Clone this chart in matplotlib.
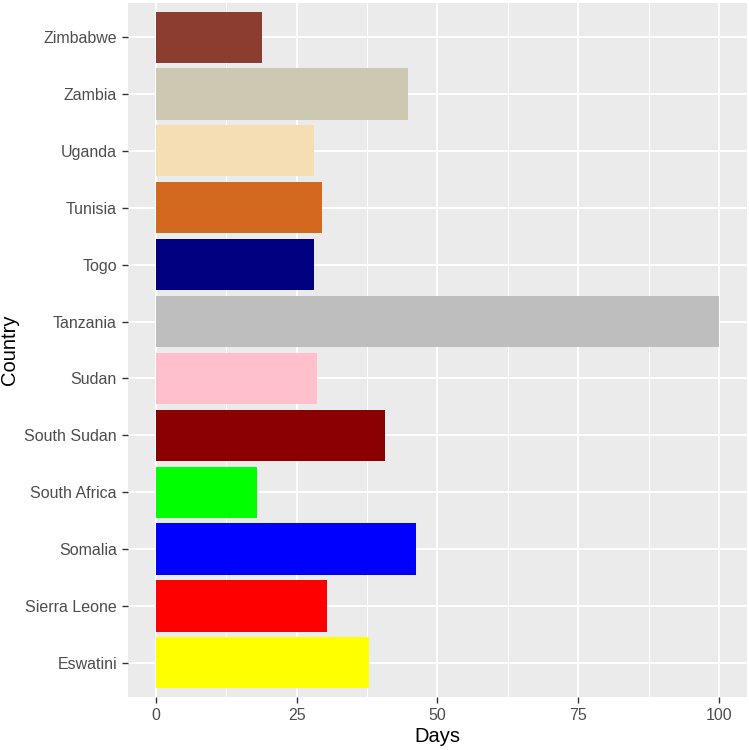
import matplotlib
matplotlib.use("Agg")
import matplotlib.pyplot as plt
from matplotlib.ticker import MultipleLocator

plt.rcParams['font.family'] = ['Liberation Sans', 'DejaVu Sans']

# data (bottom to top)
countries = ["Eswatini", "Sierra Leone", "Somalia", "South Africa", "South Sudan",
             "Sudan", "Tanzania", "Togo", "Tunisia", "Uganda", "Zambia", "Zimbabwe"]
days = [37.8, 30.4, 46.2, 17.9, 40.6, 28.5, 100, 28, 29.4, 28, 44.8, 18.9]
colors = ["#FFFF00", "#FF0000", "#0000FF", "#00FF00", "#8B0000", "#FFC0CB",
          "#BEBEBE", "#000080", "#D2691E", "#F5DEB3", "#CDC8B1", "#8B3E2F"]

fig = plt.figure(figsize=(7.49, 7.5), dpi=100)
ax = fig.add_axes([0.1709, 0.0707, 0.8264, 0.9253])
ax.set_facecolor("#EBEBEB")

ypos = list(range(len(countries)))
ax.barh(ypos, days, height=0.9, color=colors, zorder=3)

ax.set_xlim(-5, 105)
ax.set_ylim(-0.6, len(countries) - 0.4)
ax.xaxis.set_major_locator(MultipleLocator(25))
ax.xaxis.set_minor_locator(MultipleLocator(12.5))
ax.set_yticks(ypos)
ax.set_yticklabels(countries)

ax.grid(which="major", color="white", linewidth=1.4, zorder=1)
ax.grid(which="minor", axis="x", color="white", linewidth=0.7, zorder=1)
ax.tick_params(which="minor", length=0)
ax.tick_params(which="major", length=4, width=1, color="#333333",
               labelcolor="#4D4D4D", labelsize=11.5, pad=4)
for s in ax.spines.values():
    s.set_visible(False)

ax.set_xlabel("Days", fontsize=14.5, color="black", labelpad=3)
ax.set_ylabel("Country", fontsize=14.5, color="black", labelpad=4)

fig.savefig("out.png", dpi=100)
